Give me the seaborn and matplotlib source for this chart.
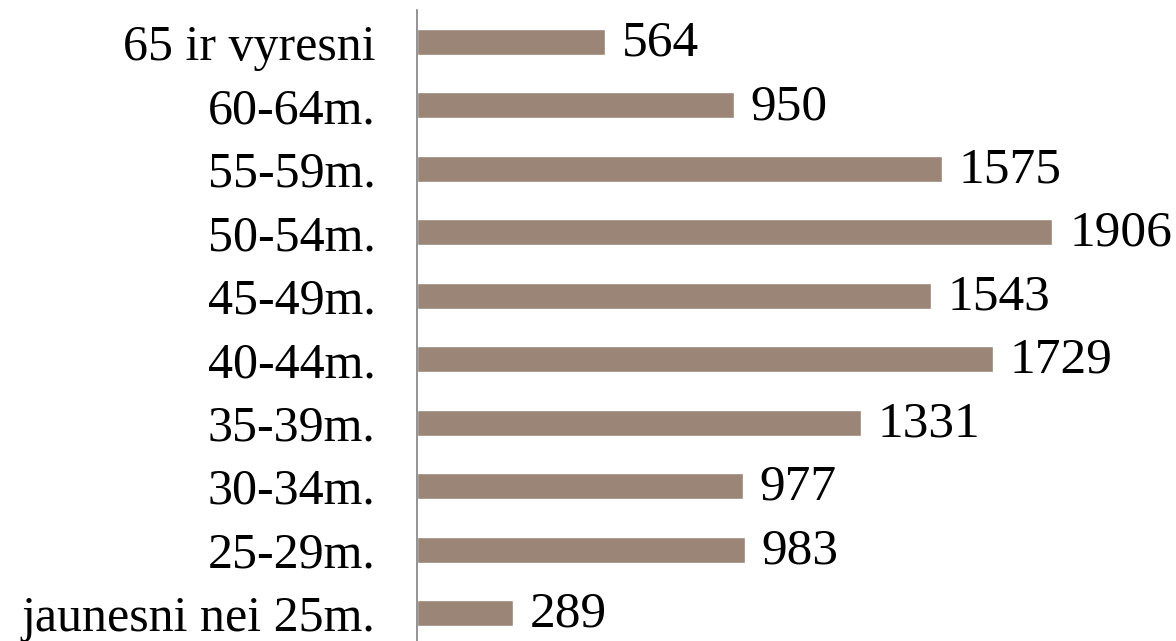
import matplotlib
matplotlib.use("Agg")
import matplotlib.pyplot as plt
import seaborn as sns
import pandas as pd

# Dades
categories = ["65 ir vyresni", "60-64m.", "55-59m.", "50-54m.", "45-49m.",
              "40-44m.", "35-39m.", "30-34m.", "25-29m.", "jaunesni nei 25m."]
values = [564, 950, 1575, 1906, 1543, 1729, 1331, 977, 983, 289]

BAR_COLOR = "#9a8577"

sns.set_style("white")
plt.rcParams['font.family'] = ['Liberation Serif', 'DejaVu Serif']

df = pd.DataFrame({"cat": categories, "val": values})

fig = plt.figure(figsize=(11.76, 6.41), dpi=100)
ax = fig.add_axes([417 / 1176, 0, 1 - 417 / 1176, 631 / 641])

sns.barplot(data=df, x="val", y="cat", order=categories, color=BAR_COLOR,
            width=0.41, saturation=1, ax=ax)

for c in ax.containers:
    txts = ax.bar_label(c, labels=[str(v) for v in values], padding=12,
                        fontsize=37, color="black")
    # una mica més avall, com a l'original
    for t in txts:
        t.xyann = (t.xyann[0], t.xyann[1] - 1)

ax.set_xlim(0, 2277)
ax.set_ylim(9.44, -0.504)
ax.set_xlabel("")
ax.set_ylabel("")
ax.set_xticks([])
ax.tick_params(axis="y", length=0, pad=30, labelsize=36, labelcolor="black")
for s in ["top", "right", "bottom"]:
    ax.spines[s].set_visible(False)
ax.spines["left"].set_color("#808080")
ax.spines["left"].set_linewidth(1.2)

fig.savefig("out.png", dpi=100)
